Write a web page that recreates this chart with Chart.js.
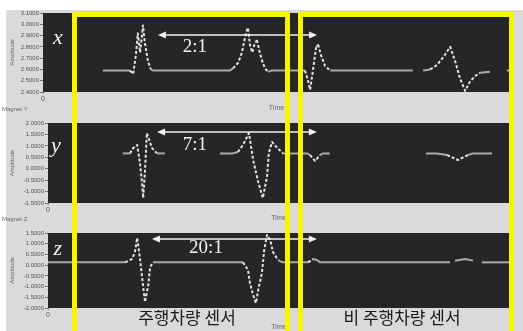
<!DOCTYPE html>
<html>
<head>
<meta charset="utf-8">
<script src="https://cdn.jsdelivr.net/npm/chart.js@4.4.1/dist/chart.umd.min.js"></script>
<style>
  html, body { margin: 0; padding: 0; background: #ffffff; }
  #wrap { position: relative; width: 523px; height: 331px; overflow: hidden; background: #ffffff; }
  #wrap canvas { position: absolute; left: 0; }
  .box { position: absolute; border: 5px solid #f5f500; box-sizing: border-box; }
  .lbl { position: absolute; transform: translateX(-50%); font-family: "Noto Sans CJK KR", sans-serif;
         font-size: 17px; line-height: 20px; color: #1a1a1a; white-space: nowrap; }
</style>
</head>
<body>
<div id="wrap">
  <canvas id="cx" width="523" height="112" style="top:0px"></canvas>
  <canvas id="cy" width="523" height="110" style="top:112px"></canvas>
  <canvas id="cz" width="523" height="109" style="top:222px"></canvas>
  <div class="box" style="left:72px;top:12px;width:218px;height:340px"></div>
  <div class="box" style="left:298px;top:12px;width:216px;height:340px"></div>
  <div class="lbl" style="left:187px;top:307px">주행차량 센서</div>
  <div class="lbl" style="left:402px;top:307px">비 주행차량 센서</div>
</div>
<script>
// x-axis magnetic sensor trace (time in samples, amplitude)
const timeX = [128, 186, 193, 199, 203, 208, 214, 218, 225, 231, 236,
               400, 407, 418, 426, 435, 439, 443, 448, 454, 458, 463, 469, 475, 482, 490,
               561, 567, 572, 578, 585, 589, 595, 604, 615, 792,
               800,
               814, 829, 844, 859, 872, 882, 893, 904, 914, 925, 936, 957,
               975,
               993, 1000];
const sigX  = [2.59, 2.59, 2.56, 2.73, 2.92, 2.75, 2.99, 2.84, 2.67, 2.60, 2.59,
               2.59, 2.61, 2.66, 2.75, 2.93, 2.97, 2.82, 2.75, 2.84, 2.86, 2.77, 2.68, 2.61, 2.58, 2.59,
               2.59, 2.51, 2.42, 2.59, 2.80, 2.82, 2.73, 2.63, 2.59, 2.59,
               null,
               2.59, 2.60, 2.64, 2.72, 2.80, 2.68, 2.52, 2.41, 2.49, 2.54, 2.57, 2.58,
               null,
               2.59, 2.59];

// y-axis magnetic sensor trace
const timeY = [162, 178, 182, 193, 199, 204, 206, 210, 214, 225, 236, 253,
               300,
               372, 400, 411, 422, 435, 444, 455, 465, 474, 478, 485, 496, 509,
               561, 567, 578, 589, 595, 610,
               700,
               818, 842, 864, 887, 909, 920, 961];
const sigY  = [0.67, 0.67, 0.86, 1.04, 0.25, -0.71, -1.28, -0.06, 1.56, 0.91, 0.67, 0.67,
               null,
               0.67, 0.67, 0.73, 1.04, 1.56, 0.38, -0.58, -1.28, -0.36, 0.69, 1.17, 0.91, 0.67,
               0.67, 0.60, 0.34, 0.60, 0.67, 0.67,
               null,
               0.67, 0.67, 0.60, 0.38, 0.60, 0.67, 0.67];

// z-axis magnetic sensor trace
const timeZ = [0, 167, 182, 188, 193, 199, 206, 210, 217, 221, 227,
               422, 433, 437, 444, 450, 455, 463, 468, 474, 481, 487, 498, 507,
               563, 574, 582, 589, 870,
               875,
               881, 903, 920,
               930,
               939, 1000];
const sigZ  = [0.13, 0.13, 0.29, 0.61, 1.27, 0.33, -1.02, -1.72, -0.93, -0.09, 0.13,
               0.13, -0.23, -0.83, -1.39, -1.77, -1.16, -0.37, 0.71, 1.41, 1.17, 0.61, 0.24, 0.13,
               0.13, 0.29, 0.24, 0.13, 0.13,
               null,
               0.21, 0.29, 0.21,
               null,
               0.13, 0.13];

// amplitude tick values, top to bottom
const ticksX = [3.1, 3.0, 2.9, 2.8, 2.7, 2.6, 2.5, 2.4];
const ticksY = [2.0, 1.5, 1.0, 0.5, 0.0, -0.5, -1.0, -1.5];
const ticksZ = [1.5, 1.0, 0.5, 0.0, -0.5, -1.0, -1.5, -2.0];

const FRAME = '#dadada';
const PLOT = '#262626';

// gray instrument frame, dark plot area, and the overlaid annotations
const decor = {
  id: 'decor',
  beforeDraw(chart, _args, o) {
    const { ctx, chartArea: a, width: w, height: h } = chart;
    ctx.save();
    ctx.fillStyle = '#ffffff';
    ctx.fillRect(0, 0, w, h);
    ctx.fillStyle = FRAME;
    ctx.fillRect(6, o.frameTop, w - 6, h - o.frameTop);
    ctx.fillStyle = PLOT;
    ctx.fillRect(a.left, a.top, a.right - a.left, a.bottom - a.top);
    ctx.restore();
  },
  afterDraw(chart, _args, o) {
    const { ctx, scales: { x, y } } = chart;
    ctx.save();
    if (o.caption) {
      ctx.fillStyle = '#6a6a6a';
      ctx.font = '6px "Liberation Sans"';
      ctx.textAlign = 'left';
      ctx.textBaseline = 'bottom';
      ctx.fillText(o.caption, 2, chart.height);
    }
    // double-headed arrow
    const x1 = x.getPixelForValue(o.arrow[0]);
    const x2 = x.getPixelForValue(o.arrow[1]);
    const ay = y.getPixelForValue(o.arrow[2]);
    ctx.strokeStyle = '#f2f2f2';
    ctx.fillStyle = '#f2f2f2';
    ctx.lineWidth = 1.3;
    ctx.beginPath(); ctx.moveTo(x1 + 5, ay); ctx.lineTo(x2 - 5, ay); ctx.stroke();
    ctx.beginPath(); ctx.moveTo(x1, ay); ctx.lineTo(x1 + 8, ay - 3.5); ctx.lineTo(x1 + 8, ay + 3.5); ctx.closePath(); ctx.fill();
    ctx.beginPath(); ctx.moveTo(x2, ay); ctx.lineTo(x2 - 8, ay - 3.5); ctx.lineTo(x2 - 8, ay + 3.5); ctx.closePath(); ctx.fill();
    // ratio text
    ctx.textAlign = 'center';
    ctx.textBaseline = 'middle';
    ctx.font = '19px "Liberation Serif"';
    ctx.fillText(o.ratio, x.getPixelForValue(o.ratioAt[0]), y.getPixelForValue(o.ratioAt[1]));
    // axis letter
    ctx.font = 'italic 22px "Liberation Serif"';
    ctx.fillText(o.letter, x.getPixelForValue(o.letterAt[0]), y.getPixelForValue(o.letterAt[1]));
    ctx.restore();
  }
};

const steep = c => Math.abs(c.p1.y - c.p0.y) > 2.5;

function panel(id, times, values, ticks, lay, note) {
  const yMax = ticks[0], yMin = ticks[ticks.length - 1];
  return new Chart(document.getElementById(id), {
    type: 'line',
    data: {
      datasets: [{
        data: times.map((t, i) => ({ x: t, y: values[i] })),
        borderColor: '#aaaaaa',
        borderWidth: 2,
        borderJoinStyle: 'round',
        pointRadius: 0,
        tension: 0,
        spanGaps: false,
        segment: {
          borderColor: c => steep(c) ? '#e4e4e4' : undefined,
          borderDash: c => steep(c) ? [3, 2] : undefined
        }
      }]
    },
    options: {
      responsive: false,
      animation: false,
      events: [],
      layout: { padding: { left: 6, right: 13, top: lay.top, bottom: 0 } },
      plugins: {
        legend: { display: false },
        tooltip: { enabled: false },
        decor: note
      },
      scales: {
        x: {
          type: 'linear', min: 0, max: 1000,
          afterBuildTicks: s => { s.ticks = [{ value: 0 }, { value: 1000 }]; },
          afterFit: s => { s.height = lay.xh; },
          grid: { drawOnChartArea: false, tickLength: 2, color: '#8a8a8a' },
          border: { display: false },
          ticks: {
            autoSkip: false, maxRotation: 0, padding: 1,
            font: { size: 7, family: 'Liberation Sans' }, color: '#555',
            callback: v => (v === 0 ? '0' : '')
          },
          title: { display: true, text: 'Time', padding: 0,
                   font: { size: 7, family: 'Liberation Sans' }, color: '#666' }
        },
        y: {
          min: yMin, max: yMax,
          afterBuildTicks: s => { s.ticks = ticks.slice().reverse().map(v => ({ value: v })); },
          afterFit: s => { s.width = lay.left - 6; },
          grid: { drawOnChartArea: false, tickLength: 3, color: '#777' },
          border: { display: false },
          ticks: {
            autoSkip: false, padding: 1,
            font: { size: 6, family: 'Liberation Sans' }, color: '#555',
            callback: v => v.toFixed(4)
          },
          title: { display: true, text: 'Amplitude', padding: 3,
                   font: { size: 6, family: 'Liberation Sans' }, color: '#666' }
        }
      }
    },
    plugins: [decor]
  });
}

panel('cx', timeX, sigX, ticksX, { top: 13, xh: 20, left: 43 }, {
  frameTop: 10, caption: 'Magnet Y', letter: 'x', letterAt: [32, 2.88],
  ratio: '2:1', ratioAt: [325, 2.80], arrow: [246, 587, 2.905]
});
panel('cy', timeY, sigY, ticksY, { top: 11, xh: 19, left: 48 }, {
  frameTop: 0, caption: 'Magnet Z', letter: 'y', letterAt: [17, 0.99],
  ratio: '7:1', ratioAt: [318, 1.04], arrow: [236, 582, 1.606]
});
panel('cz', timeZ, sigZ, ticksZ, { top: 11, xh: 23, left: 48 }, {
  frameTop: 0, caption: '', letter: 'z', letterAt: [21, 0.75],
  ratio: '20:1', ratioAt: [342, 0.78], arrow: [225, 582, 1.22]
});
</script>
</body>
</html>
